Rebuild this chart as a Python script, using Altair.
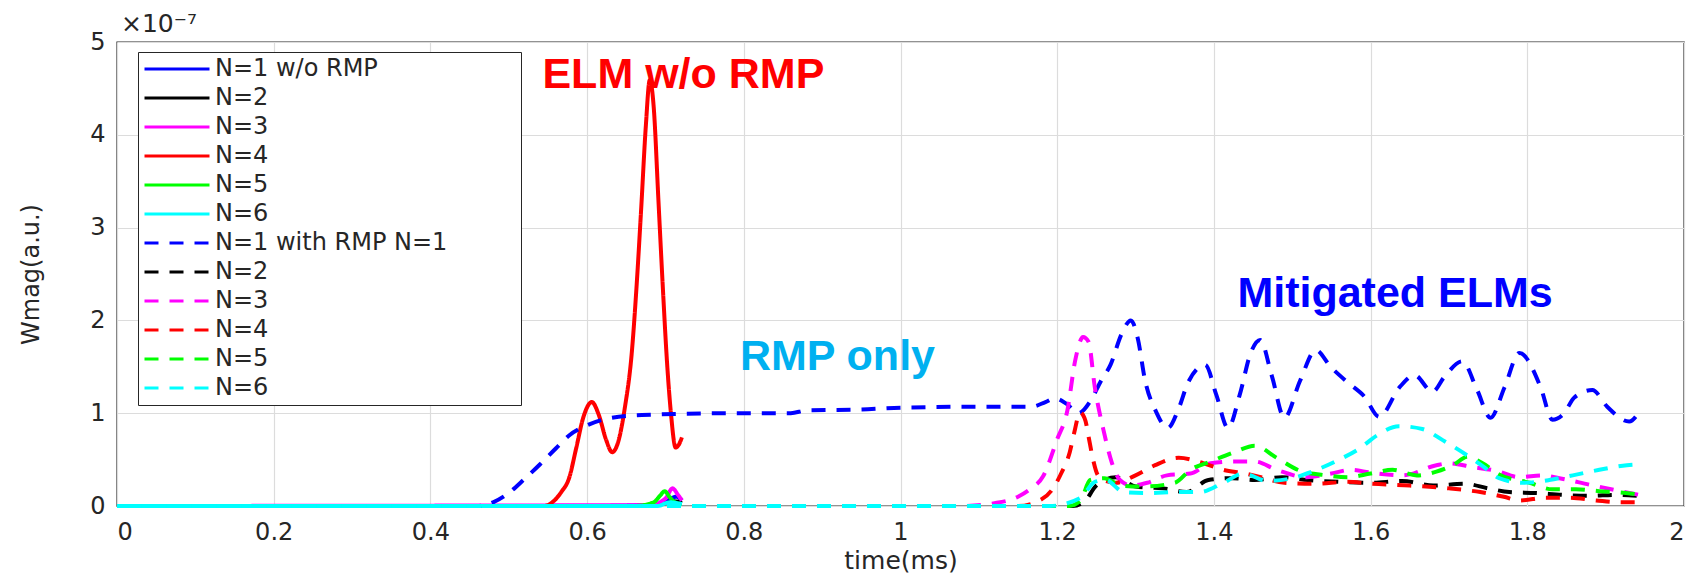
import altair as alt
import pandas as pd

# ---------------- data ----------------
series_keys = ["N=1 w/o RMP", "N=2", "N=3", "N=4", "N=5", "N=6",
               "N=1 with RMP N=1", "N=2 (RMP)", "N=3 (RMP)", "N=4 (RMP)", "N=5 (RMP)", "N=6 (RMP)"]
series_colors = ["#0000FF", "#000000", "#FF00FF", "#FF0000", "#00FF00", "#00FFFF",
                 "#0000FF", "#000000", "#FF00FF", "#FF0000", "#00FF00", "#00FFFF"]

# without RMP (solid)
s1_t = [0, 0.60, 0.68, 0.70, 0.714, 0.721]
s1_v = [0, 0, 0.01, 0.05, 0.10, 0.06]
s2_t = [0, 0.66, 0.70, 0.712, 0.721]
s2_v = [0, 0, 0.03, 0.05, 0.03]
s3_t = [0, 0.68, 0.70, 0.709, 0.716, 0.721]
s3_v = [0, 0.01, 0.08, 0.19, 0.12, 0.06]
s4_t = [0, 0.545, 0.557, 0.567, 0.577, 0.586, 0.595, 0.606, 0.615, 0.624, 0.632, 0.64, 0.648,
        0.657, 0.663, 0.669, 0.675, 0.68, 0.685, 0.691, 0.697, 0.702, 0.707, 0.713, 0.717, 0.721]
s4_v = [0, 0, 0.05, 0.15, 0.30, 0.62, 0.95, 1.12, 0.98, 0.72, 0.58, 0.70, 1.05,
        1.65, 2.35, 3.20, 4.10, 4.59, 4.30, 3.30, 2.30, 1.55, 1.00, 0.63, 0.66, 0.74]
s5_t = [0, 0.66, 0.685, 0.693, 0.699, 0.705, 0.712, 0.721]
s5_v = [0, 0, 0.04, 0.11, 0.16, 0.10, 0.04, 0.02]
s6_t = [0, 0.69, 0.705, 0.721]
s6_v = [0, 0, 0.04, 0.02]

# with RMP N=1 (dashed)
d1_t = [0, 0.46, 0.48, 0.50, 0.52, 0.54, 0.56, 0.577, 0.60, 0.62, 0.67, 0.78, 0.86, 0.88, 0.95,
        1.0, 1.1, 1.167, 1.185, 1.197, 1.212, 1.227, 1.243, 1.256, 1.268, 1.282, 1.294, 1.303,
        1.312, 1.326, 1.341, 1.355, 1.367, 1.389, 1.403, 1.418, 1.433, 1.447, 1.459, 1.474, 1.49,
        1.51, 1.53, 1.549, 1.571, 1.592, 1.611, 1.637, 1.656, 1.679, 1.694, 1.717, 1.736, 1.753,
        1.771, 1.79, 1.817, 1.832, 1.847, 1.86, 1.883, 1.902, 1.93, 1.944]
d1_v = [0, 0, 0.04, 0.14, 0.29, 0.45, 0.62, 0.76, 0.87, 0.93, 0.98, 1.0, 1.0, 1.03, 1.04,
        1.06, 1.07, 1.07, 1.12, 1.16, 1.10, 1.0, 1.14, 1.35, 1.52, 1.85, 2.0, 1.8,
        1.36, 1.02, 0.84, 1.05, 1.33, 1.52, 1.2, 0.84, 1.2, 1.65, 1.79, 1.4, 0.95,
        1.35, 1.68, 1.5, 1.33, 1.18, 0.96, 1.28, 1.41, 1.23, 1.39, 1.56, 1.25, 0.95,
        1.28, 1.65, 1.28, 0.93, 1.0, 1.17, 1.25, 1.07, 0.91, 1.03]
d2_t = [0, 1.22, 1.235, 1.25, 1.275, 1.30, 1.335, 1.365, 1.393, 1.424, 1.452, 1.487, 1.52, 1.56,
        1.60, 1.64, 1.68, 1.72, 1.75, 1.777, 1.811, 1.844, 1.879, 1.913, 1.94]
d2_v = [0, 0, 0.05, 0.22, 0.31, 0.21, 0.19, 0.15, 0.28, 0.30, 0.28, 0.31, 0.28, 0.26,
        0.25, 0.27, 0.22, 0.24, 0.19, 0.15, 0.14, 0.12, 0.11, 0.12, 0.11]
d3_t = [0, 1.08, 1.12, 1.15, 1.165, 1.182, 1.20, 1.213, 1.223, 1.233, 1.24, 1.248, 1.259, 1.27,
        1.28, 1.295, 1.315, 1.34, 1.37, 1.396, 1.426, 1.452, 1.48, 1.518, 1.55, 1.575, 1.60,
        1.641, 1.684, 1.70, 1.73, 1.76, 1.79, 1.819, 1.841, 1.879, 1.913, 1.943]
d3_v = [0, 0, 0.03, 0.10, 0.18, 0.32, 0.72, 1.03, 1.57, 1.82, 1.77, 1.28, 0.82, 0.46,
        0.28, 0.22, 0.25, 0.33, 0.35, 0.46, 0.48, 0.48, 0.39, 0.31, 0.35, 0.39, 0.36,
        0.33, 0.44, 0.46, 0.42, 0.38, 0.31, 0.33, 0.30, 0.23, 0.17, 0.12]
d4_t = [0, 1.15, 1.175, 1.193, 1.205, 1.216, 1.222, 1.229, 1.236, 1.24, 1.245, 1.252, 1.262,
        1.275, 1.30, 1.325, 1.355, 1.387, 1.412, 1.44, 1.46, 1.49, 1.53, 1.57, 1.60, 1.65,
        1.70, 1.74, 1.77, 1.79, 1.824, 1.854, 1.888, 1.921, 1.945]
d4_v = [0, 0, 0.05, 0.17, 0.35, 0.58, 0.80, 1.01, 0.92, 0.75, 0.53, 0.33, 0.27,
        0.25, 0.33, 0.44, 0.52, 0.46, 0.39, 0.35, 0.31, 0.25, 0.24, 0.26, 0.24, 0.22,
        0.19, 0.15, 0.10, 0.06, 0.09, 0.09, 0.06, 0.04, 0.04]
d5_t = [0, 1.215, 1.23, 1.242, 1.26, 1.282, 1.31, 1.35, 1.37, 1.396, 1.426, 1.452, 1.48, 1.51,
        1.544, 1.57, 1.60, 1.628, 1.659, 1.684, 1.705, 1.724, 1.743, 1.764, 1.803, 1.832,
        1.862, 1.892, 1.926, 1.945]
d5_v = [0, 0, 0.06, 0.28, 0.30, 0.22, 0.21, 0.25, 0.39, 0.48, 0.58, 0.65, 0.52, 0.38,
        0.33, 0.31, 0.35, 0.39, 0.33, 0.37, 0.44, 0.53, 0.46, 0.34, 0.25, 0.18,
        0.18, 0.16, 0.14, 0.12]
d6_t = [0, 1.19, 1.23, 1.248, 1.262, 1.285, 1.318, 1.352, 1.382, 1.412, 1.438, 1.468, 1.50,
        1.525, 1.56, 1.586, 1.608, 1.636, 1.666, 1.692, 1.717, 1.743, 1.764, 1.794, 1.828,
        1.858, 1.892, 1.927, 1.945]
d6_v = [0, 0, 0.09, 0.26, 0.28, 0.15, 0.14, 0.15, 0.15, 0.25, 0.35, 0.27, 0.30,
        0.37, 0.50, 0.62, 0.76, 0.86, 0.83, 0.71, 0.58, 0.43, 0.30, 0.25, 0.28,
        0.33, 0.39, 0.44, 0.45]

series_t = [s1_t, s2_t, s3_t, s4_t, s5_t, s6_t, d1_t, d2_t, d3_t, d4_t, d5_t, d6_t]
series_v = [s1_v, s2_v, s3_v, s4_v, s5_v, s6_v, d1_v, d2_v, d3_v, d4_v, d5_v, d6_v]

x_ticks = [0, 0.2, 0.4, 0.6, 0.8, 1.0, 1.2, 1.4, 1.6, 1.8, 2.0]
y_ticks = [0, 1, 2, 3, 4, 5]

ann_text = ["ELM w/o RMP", "RMP only", "Mitigated ELMs"]
ann_t = [0.543, 0.795, 1.43]
ann_v = [4.50, 1.47, 2.14]
ann_col = ["#FF0000", "#00B0F0", "#0000FF"]

# ---------------- build table ----------------
rows = []
for key, ts, vs in zip(series_keys, series_t, series_v):
    for i, (t, v) in enumerate(zip(ts, vs)):
        rows.append({"series": key, "t": t, "v": v, "i": i})
df = pd.DataFrame(rows)

dash_range = [[1, 0]] * 6 + [[14, 11]] * 6

# the longest label gets trailing no-break spaces (closed by a zero-width space so they are
# not trimmed) so the legend box is as wide as in the reference
pad = "\u00a0" * 9 + "\u200b"
label_expr = ("datum.label == 'N=1 with RMP N=1' ? datum.label + '" + pad + "' "
              ": replace(datum.label, ' (RMP)', '')")

legend = alt.Legend(
    title=None, orient="none", legendX=21, legendY=10,
    symbolType="stroke", symbolSize=4225, symbolStrokeWidth=3,
    clipHeight=24, rowPadding=5, labelFontSize=24, labelFont="DejaVu Sans",
    labelColor="#262626", padding=5, fillColor="white", strokeColor="#262626",
    labelOffset=4, symbolOffset=0, labelLimit=600,
    labelExpr=label_expr,
)

xenc = alt.X("t:Q", scale=alt.Scale(domain=[0, 2], nice=False),
             axis=alt.Axis(values=x_ticks, format="~g", title="time(ms)",
                           labelPadding=14, titlePadding=4, titleFontSize=25))
yenc = alt.Y("v:Q", scale=alt.Scale(domain=[0, 5], nice=False),
             axis=alt.Axis(values=y_ticks, format="d", title="Wmag(a.u.)",
                           labelPadding=12, titlePadding=46))

lines = alt.Chart(df).mark_line(strokeWidth=4, interpolate="monotone").encode(
    x=xenc, y=yenc,
    color=alt.Color("series:N", scale=alt.Scale(domain=series_keys, range=series_colors),
                    legend=legend),
    strokeDash=alt.StrokeDash("series:N", scale=alt.Scale(domain=series_keys, range=dash_range),
                              legend=legend),
    order="i:Q",
)

layers = [lines]
for txt, t, v, col in zip(ann_text, ann_t, ann_v, ann_col):
    adf = pd.DataFrame({"t": [t], "v": [v], "label": [txt]})
    layers.append(
        alt.Chart(adf).mark_text(font="Liberation Sans", fontSize=43, fontWeight="bold",
                                 align="left", baseline="alphabetic", color=col)
        .encode(x="t:Q", y="v:Q", text="label:N")
    )

exp_df = pd.DataFrame({"t": [0], "v": [5], "label": ["×10⁻⁷"]})
layers.append(
    alt.Chart(exp_df).mark_text(font="DejaVu Sans", fontSize=25, align="left",
                                baseline="alphabetic", dx=4, dy=-10, color="#262626")
    .encode(x="t:Q", y="v:Q", text="label:N")
)

chart = alt.layer(*layers).properties(
    width=1567, height=464,
    autosize=alt.AutoSizeParams(type="none"),
    padding={"left": 109, "top": 34, "right": 12, "bottom": 68},
    background="white",
).configure_axis(
    labelFont="DejaVu Sans", labelFontSize=24, labelColor="#262626",
    titleFont="DejaVu Sans", titleFontSize=24, titleColor="#262626", titleFontWeight="normal",
    grid=True, gridColor="#DCDCDC", gridWidth=1.2, ticks=False, tickSize=0, domain=False,
).configure_view(
    stroke="#262626", strokeWidth=1.4,
)

chart.save("out.html", embed_options={"renderer": "svg", "actions": False})
